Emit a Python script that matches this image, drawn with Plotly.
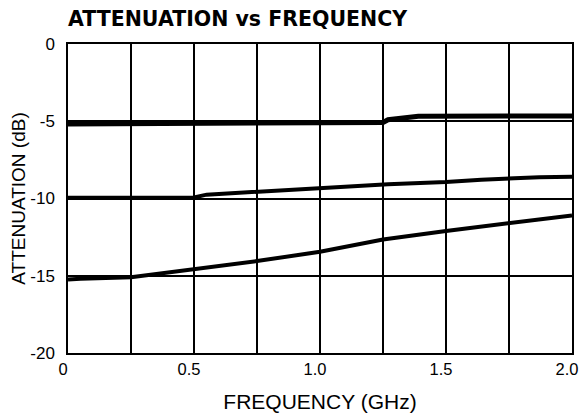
import plotly.graph_objects as go

# Data
freq_a = [0, 0.25, 0.5, 0.75, 1.0, 1.25, 1.27, 1.39, 1.5, 1.75, 2.0]
att_a = [-5.18, -5.18, -5.15, -5.12, -5.1, -5.08, -4.9, -4.68, -4.66, -4.66, -4.66]

freq_b = [0, 0.25, 0.5, 0.55, 0.71, 0.87, 1.05, 1.27, 1.5, 1.64, 1.87, 2.0]
att_b = [-9.95, -9.95, -9.93, -9.75, -9.6, -9.42, -9.25, -9.07, -8.93, -8.78, -8.62, -8.6]

freq_c = [0, 0.05, 0.25, 0.5, 0.75, 1.0, 1.25, 1.5, 1.75, 2.0]
att_c = [-15.25, -15.2, -15.1, -14.6, -14.05, -13.45, -12.65, -12.1, -11.6, -11.1]

x_tickvals = [0, 0.25, 0.5, 0.75, 1.0, 1.25, 1.5, 1.75, 2.0]
x_ticktext = ["0", "", "0.5", "", "1.0", "", "1.5", "", "2.0"]
y_tickvals = [0, -5, -10, -15, -20]
y_ticktext = ["0", "-5", "-10", "-15", "-20"]

fig = go.Figure()
fig.add_trace(go.Scatter(x=freq_a, y=att_a, mode="lines",
                         line=dict(color="black", width=5), showlegend=False))
fig.add_trace(go.Scatter(x=freq_b, y=att_b, mode="lines",
                         line=dict(color="black", width=4), showlegend=False))
fig.add_trace(go.Scatter(x=freq_c, y=att_c, mode="lines",
                         line=dict(color="black", width=4), showlegend=False))

fig.update_layout(
    width=579, height=419,
    margin=dict(l=68, r=7, t=44, b=66),
    paper_bgcolor="white", plot_bgcolor="white",
    font=dict(family="Liberation Sans, Arial, sans-serif", size=17, color="black"),
    title=dict(text="<b>ATTENUATION vs FREQUENCY</b>",
               font=dict(family="DejaVu Sans", size=20.5, color="black"),
               x=68 / 579, xanchor="left", xref="container",
               y=1 - 19 / 419, yanchor="middle", yref="container"),
)
fig.update_xaxes(
    range=[0, 2.0], tickmode="array", tickvals=x_tickvals, ticktext=x_ticktext,
    showgrid=True, gridcolor="black", gridwidth=1.5,
    showline=True, linecolor="black", linewidth=1.5, mirror=True,
    ticks="", zeroline=False, ticklabelstandoff=0, ticklabelshift=-5,
    tickfont=dict(size=16.5),
    ticklabeloverflow="allow", automargin=False,
    title=dict(text="FREQUENCY (GHz)", font=dict(size=21), standoff=18),
)
fig.update_yaxes(
    range=[-20, 0], tickmode="array", tickvals=y_tickvals, ticktext=y_ticktext,
    showgrid=True, gridcolor="black", gridwidth=1.5,
    showline=True, linecolor="black", linewidth=1.5, mirror=True,
    ticks="", zeroline=False, ticklabelstandoff=8, automargin=False,
    title=dict(text="ATTENUATION (dB)", font=dict(size=19), standoff=0),
)

fig.write_html("out.html", config={"displayModeBar": False},
               post_script="document.body.style.margin='0';document.body.style.overflow='hidden';")
